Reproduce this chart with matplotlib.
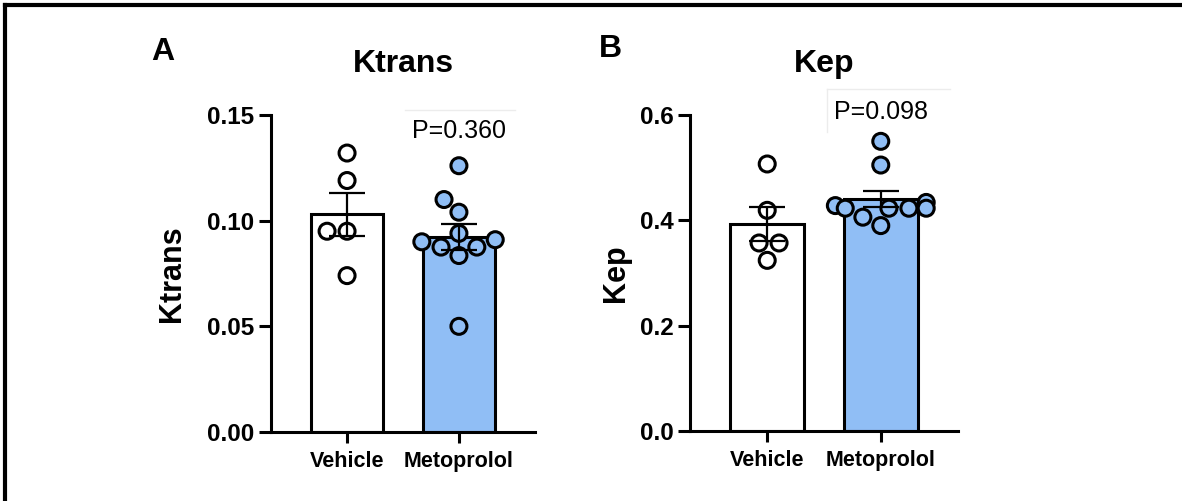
import matplotlib
matplotlib.use("Agg")
import matplotlib.pyplot as plt
import matplotlib.font_manager as fm
import numpy as np
import pandas as pd
import seaborn as sns
from matplotlib.lines import Line2D

groups = ["Vehicle", "Metoprolol"]
bar_colors = {"Vehicle": "#ffffff", "Metoprolol": "#90bef5"}

ktrans_vehicle = [0.132, 0.119, 0.095, 0.095, 0.074]
ktrans_metoprolol = [0.126, 0.110, 0.104, 0.094, 0.091, 0.090, 0.0875, 0.0875, 0.0835, 0.050]
kep_vehicle = [0.507, 0.419, 0.357, 0.357, 0.324]
kep_metoprolol = [0.550, 0.505, 0.434, 0.428, 0.423, 0.423, 0.423, 0.423, 0.406, 0.390]

ktrans_ticks = [0.00, 0.05, 0.10, 0.15]
ktrans_ticklabels = ["0.00", "0.05", "0.10", "0.15"]
kep_ticks = [0.0, 0.2, 0.4, 0.6]
kep_ticklabels = ["0.0", "0.2", "0.4", "0.6"]

p_ktrans = "P=0.360"
p_kep = "P=0.098"

plt.rcParams["font.family"] = ["Liberation Sans", "DejaVu Sans"]
installed = {f.name for f in fm.fontManager.ttflist}
if "Liberation Sans Narrow" in installed:
    xfont, xsize = ["Liberation Sans Narrow", "Liberation Sans"], 18
else:
    xfont, xsize = ["Liberation Sans", "DejaVu Sans"], 15.5

fig = plt.figure(figsize=(11.82, 5.01), dpi=100)
W, H = 1182, 501


def px_axes(left, right, top, bottom):
    return fig.add_axes([left / W, 1 - bottom / H, (right - left) / W, (bottom - top) / H])


def panel(ax, vehicle, metoprolol, ticks, ticklabels, ymax, title, ylabel, ptext, py, ylab_x):
    data = [vehicle, metoprolol]
    means = [np.mean(d) for d in data]
    sems = [np.std(d, ddof=1) / np.sqrt(len(d)) for d in data]
    x = np.arange(len(groups))
    ax.bar(x, means, width=0.65, color=[bar_colors[g] for g in groups],
           edgecolor="black", linewidth=2.2, zorder=1)
    df = pd.DataFrame({"group": [g for g, d in zip(groups, data) for _ in d],
                       "value": [v for d in data for v in d]})
    sns.swarmplot(data=df, x="group", y="value", hue="group", order=groups,
                  palette=bar_colors, legend=False, size=11.5, edgecolor="black",
                  linewidth=2.2, ax=ax, zorder=3)
    ax.errorbar(x, means, yerr=sems, fmt="none", ecolor="black", elinewidth=1.6,
                capsize=13, capthick=1.6, zorder=4)
    ax.set_xlim(-0.68, 1.68)
    ax.set_ylim(0, ymax)
    ax.set_xticks(x)
    ax.set_xticklabels(groups, fontfamily=xfont, fontsize=xsize, fontweight="bold")
    ax.set_yticks(ticks)
    ax.set_yticklabels(ticklabels, fontsize=17.5, fontweight="bold")
    ax.set_xlabel("")
    ax.set_ylabel(ylabel, fontsize=22, fontweight="bold")
    ax.yaxis.set_label_coords(ylab_x, 0.5)
    ax.set_title(title, fontsize=23, fontweight="bold", pad=31)
    for s in ["top", "right"]:
        ax.spines[s].set_visible(False)
    for s in ["left", "bottom"]:
        ax.spines[s].set_linewidth(2.2)
    ax.tick_params(axis="y", length=9, width=2.2, pad=3)
    ax.tick_params(axis="x", length=8, width=2.2, pad=6)
    ax.text(1, py, ptext, ha="center", va="center", fontsize=18)


axA = px_axes(271, 535, 115, 432)
panel(axA, ktrans_vehicle, ktrans_metoprolol, ktrans_ticks, ktrans_ticklabels,
      0.15, "Ktrans", "Ktrans", p_ktrans, 0.1425, -0.32)

axB = px_axes(690, 958, 115, 431)
panel(axB, kep_vehicle, kep_metoprolol, kep_ticks, kep_ticklabels,
      0.6, "Kep", "Kep", p_kep, 0.606, -0.22)

fig.text(163 / W, 1 - 60 / H, "A", fontsize=23, fontweight="bold", ha="center", va="baseline")
fig.text(610 / W, 1 - 57 / H, "B", fontsize=23, fontweight="bold", ha="center", va="baseline")

# faint box edges around the P values
fig.add_artist(Line2D([405 / W, 515 / W], [1 - 110 / H, 1 - 110 / H], color="#ececec", lw=1))
fig.add_artist(Line2D([827 / W, 950 / W], [1 - 89 / H, 1 - 89 / H], color="#ececec", lw=1))
fig.add_artist(Line2D([827 / W, 827 / W], [1 - 89 / H, 1 - 132 / H], color="#ececec", lw=1))

# outer frame (top and left)
fig.add_artist(Line2D([5 / W, 1.0], [1 - 5 / H, 1 - 5 / H], color="black", lw=3))
fig.add_artist(Line2D([5 / W, 5 / W], [1 - 5 / H, 0.0], color="black", lw=3))

fig.savefig("out.png", dpi=100)
